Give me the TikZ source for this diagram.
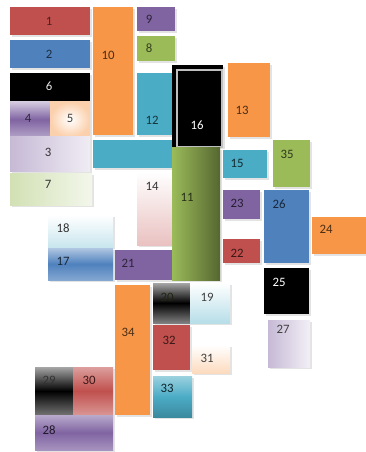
\documentclass[tikz,border=0pt]{standalone}
\usepackage{fontspec}
\setmainfont{Carlito}
\usetikzlibrary{shadows}
\definecolor{cred}{HTML}{C0504D}
\definecolor{cblue}{HTML}{4F81BD}
\definecolor{cpurple}{HTML}{8064A2}
\definecolor{cgreen}{HTML}{9BBB59}
\definecolor{cteal}{HTML}{4BACC6}
\definecolor{corange}{HTML}{F79646}
\tikzset{
  bx/.style={drop shadow={opacity=0.22,shadow xshift=1.2pt,shadow yshift=-1.2pt}},
  lab/.style={font=\fontsize{9.6}{10}\selectfont, inner sep=0pt},
}
\newcommand\bx[9]{%
  \path[bx,#6] (#2,#3) rectangle (#4,#5);
  \node[lab] (#1) at (#8,#9) {#7};}
\begin{document}
\begin{tikzpicture}[x=0.75pt,y=-0.75pt]
\useasboundingbox[fill=white] (0,0) rectangle (366,452);
% left column
\bx{n1}{10}{7}{90}{35}{fill=cred}{\color{cred!40!black}1}{49}{21}
\bx{n2}{10}{40}{90}{68}{fill=cblue}{\color{cblue!35!black}2}{49}{54}
\bx{n6}{10}{73}{90}{102}{fill=black}{\color{white!90!black}6}{49}{86}
\bx{n4}{10}{102}{50}{137}{top color=cpurple!35,bottom color=cpurple!60,middle color=cpurple}{\color{cpurple!40!black}4}{28}{118}
\bx{n5}{50}{102}{90}{137}{inner color=white,outer color=corange!45}{\color{black!75}5}{70}{118}
\bx{n3}{10}{137}{90}{172}{left color=cpurple!45,right color=cpurple!12}{\color{black!80}3}{48}{152}
\bx{n7}{10}{173}{92}{205}{left color=cgreen!45,right color=cgreen!12}{\color{black!80}7}{48}{184}
% column 10
\bx{n10}{93}{7}{133}{135}{fill=corange}{\color{corange!30!black}10}{108}{55}
\bx{n9}{137}{7}{175}{31}{fill=cpurple}{\color{cpurple!35!black}9}{149}{19}
\bx{n8}{137}{36}{175}{61}{fill=cgreen}{\color{cgreen!35!black}8}{149}{48}
\bx{n12}{137}{73}{172}{135}{fill=cteal}{\color{cteal!30!black}12}{152}{120}
\bx{tbar}{93}{140}{172}{168}{fill=cteal}{}{132}{154}
\bx{n14}{137}{172}{172}{245}{top color=white,bottom color=cred!35}{\color{black!80}14}{152}{186}
% 18, 17, 21
\bx{n18}{48}{215}{113}{247}{top color=white,bottom color=cteal!30}{\color{black!80}18}{63}{228}
\bx{n17}{48}{248}{113}{280}{top color=cblue!45,bottom color=cblue!70,middle color=cblue}{\color{cblue!30!black}17}{63}{261}
\bx{n21}{115}{250}{172}{280}{fill=cpurple}{\color{cpurple!35!black}21}{128}{263}
% 16 and 11
\fill[bx,black] (172,65) rectangle (223,147);
\draw[fill=black,draw=black!25,line width=0.9pt] (177,70) rectangle (222,147);
\node[lab,text=white] (n16) at (197,125) {16};
\bx{n11}{172}{148}{220}{280}{left color=cgreen,right color=cgreen!55!black}{\color{cgreen!25!black}11}{187}{197}
% right side
\bx{n13}{228}{63}{270}{137}{fill=corange}{\color{corange!30!black}13}{242}{110}
\bx{n15}{223}{150}{267}{178}{fill=cteal}{\color{cteal!25!black}15}{237}{163}
\bx{n35}{273}{140}{310}{187}{fill=cgreen}{\color{cgreen!30!black}35}{287}{154}
\bx{n23}{223}{190}{260}{219}{fill=cpurple}{\color{cpurple!30!black}23}{237}{203}
\bx{n22}{223}{239}{260}{263}{fill=cred}{\color{cred!30!black}22}{237}{253}
\bx{n26}{264}{190}{309}{263}{fill=cblue}{\color{cblue!30!black}26}{279}{204}
\bx{n24}{312}{217}{366}{254}{fill=corange}{\color{corange!30!black}24}{326}{229}
\bx{n25}{264}{268}{309}{314}{fill=black}{\color{white}25}{279}{282}
\bx{n27}{268}{320}{310}{367}{left color=cpurple!45,right color=cpurple!10}{\color{black!75}27}{283}{329}
% lower middle
\bx{n20}{153}{283}{190}{323}{top color=black!35,bottom color=black!50,middle color=black}{\color{black!80!cgreen}20}{167}{297}
\bx{n19}{190}{283}{230}{323}{top color=white,bottom color=cteal!40}{\color{black!75}19}{207}{297}
\bx{n34}{115}{285}{150}{415}{fill=corange}{\color{corange!30!black}34}{128}{332}
\bx{n32}{153}{325}{190}{370}{fill=cred}{\color{cred!30!black}32}{169}{340}
\bx{n31}{192}{345}{230}{373}{top color=white,bottom color=corange!35}{\color{black!75}31}{207}{358}
\bx{n33}{153}{376}{192}{417}{top color=cteal!55,bottom color=cteal!80!black,middle color=cteal}{\color{cteal!20!black}33}{167}{388}
% bottom left
\bx{n29}{35}{367}{73}{415}{top color=black!35,bottom color=black!55,middle color=black}{\color{black!80}29}{49}{380}
\bx{n30}{73}{367}{113}{415}{top color=cred!55,bottom color=cred!60,middle color=cred}{\color{cred!30!black}30}{89}{380}
\bx{n28}{35}{415}{113}{450}{top color=cpurple!55,bottom color=cpurple!70,middle color=cpurple}{\color{cpurple!25!black}28}{49}{430}
\end{tikzpicture}
\end{document}
